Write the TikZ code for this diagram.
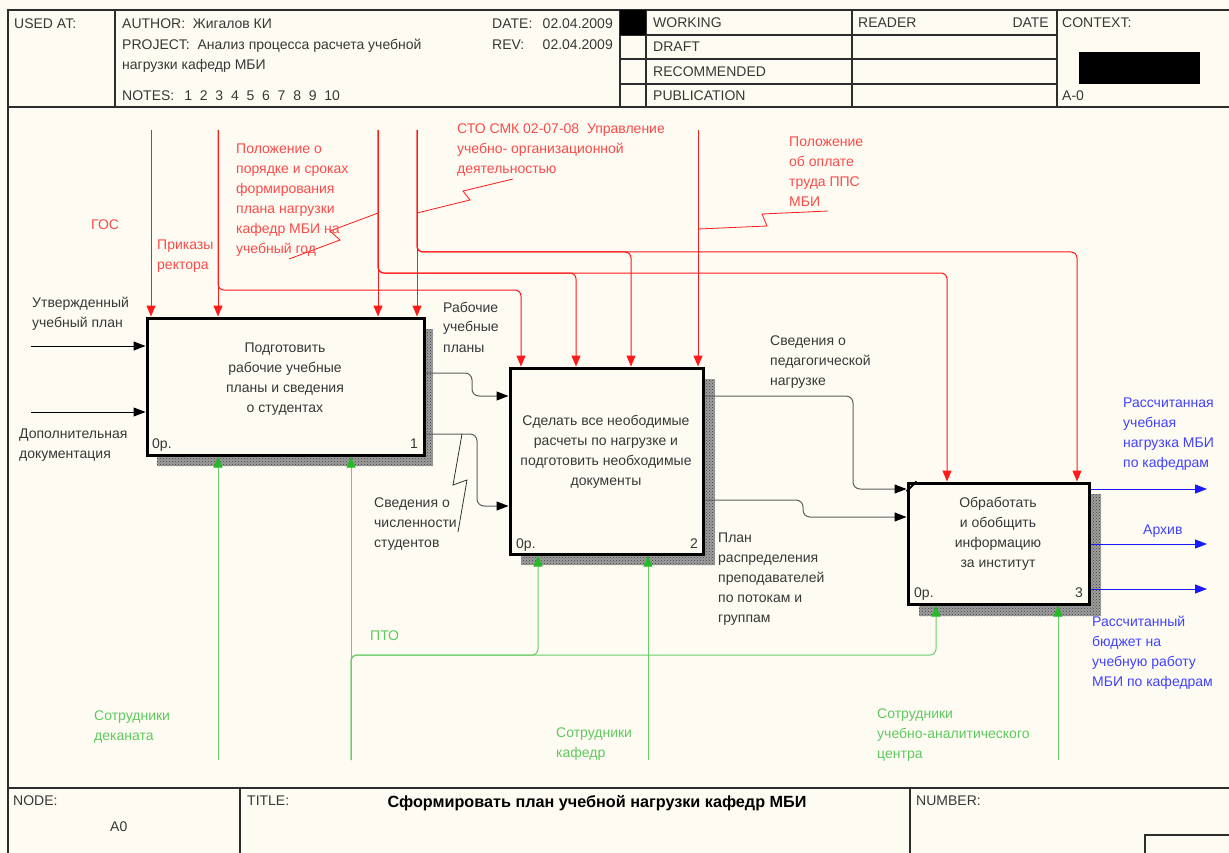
\documentclass[tikz,border=0pt]{standalone}
\usepackage{fontspec}
\setmainfont{Liberation Sans}
\usetikzlibrary{arrows.meta,patterns}

\definecolor{paper}{RGB}{254,252,242}
\definecolor{frame}{RGB}{45,45,45}
\definecolor{ink}{RGB}{55,55,55}
\definecolor{ctrlred}{RGB}{255,25,25}
\definecolor{ctrltext}{RGB}{250,75,75}
\definecolor{mechline}{RGB}{105,205,105}
\definecolor{mechtip}{RGB}{40,185,40}
\definecolor{mechtext}{RGB}{95,200,95}
\definecolor{outblue}{RGB}{25,25,255}
\definecolor{outtext}{RGB}{65,65,255}
\definecolor{flow}{RGB}{95,95,95}

\newcommand{\diafont}{\fontsize{14}{20}\selectfont}
\newcommand{\leftlines}[1]{\begin{tabular}[t]{@{}l@{}}#1\end{tabular}}
\newcommand{\midlines}[1]{\begin{tabular}[t]{@{}c@{}}#1\end{tabular}}

\tikzset{
  rule/.style={draw=frame, line width=1.1pt},
  txt/.style={font=\diafont, text=ink, inner sep=0pt, anchor=base west},
  txtr/.style={txt, anchor=base east},
  ctrltxt/.style={txt, text=ctrltext},
  mechtxt/.style={txt, text=mechtext},
  outtxt/.style={txt, text=outtext},
  boxtxt/.style={font=\diafont, text=ink, inner sep=0pt, anchor=base},
  fnbox/.style={draw=black, line width=3pt, fill=paper, inner sep=0pt},
  shadowfill/.style={fill=black!38},
  shadowdots/.style={pattern=crosshatch dots, pattern color=black!75},
  ctrl/.style={draw=ctrlred, line width=1pt, rounded corners=6pt,
    -{Triangle[length=11pt,width=9pt,color=ctrlred]}},
  mech/.style={draw=mechline, line width=1pt, rounded corners=6pt,
    -{Triangle[length=11pt,width=9pt,color=mechtip]}},
  flowline/.style={draw=flow, line width=1pt, rounded corners=7pt,
    -{Triangle[length=12pt,width=9pt,color=black]}},
  inline/.style={draw=black, line width=1pt,
    -{Triangle[length=12pt,width=9pt,color=black]}},
  outline/.style={draw=outblue, line width=1pt,
    -{Triangle[length=12pt,width=9pt,color=outblue]}},
  redtick/.style={draw=ctrlred, line width=0.8pt},
  blacktick/.style={draw=black!80, line width=0.8pt},
}

\begin{document}
\begin{tikzpicture}[x=1pt,y=-1pt]
\fill[paper] (0,0) rectangle (1229,853);
\useasboundingbox (0,0) rectangle (1229,853);

% ---------- form frame ----------
\draw[rule] (1229,10) -- (8,10) -- (8,853);
\draw[rule] (8,107) -- (1229,107);
\draw[rule] (8,788) -- (1229,788);
\draw[rule] (115,10) -- (115,107);
\draw[rule] (620,10) -- (620,107);
\draw[rule] (646,10) -- (646,107);
\draw[rule] (852,10) -- (852,107);
\draw[rule] (1057,10) -- (1057,107);
\foreach \yy in {35,59,84} \draw[rule] (620,\yy) -- (1057,\yy);
\fill[black] (620,10) rectangle (646,35);
\fill[black] (1079,52) rectangle (1200,84);
\draw[rule] (240,788) -- (240,853);
\draw[rule] (910,788) -- (910,853);
\draw[rule] (1145,853) -- (1145,835) -- (1229,835);

% ---------- header texts ----------
\node[txt] (usedat) at (14,29) {USED AT:};
\node[txt] (author) at (122,29) {AUTHOR:~~Жигалов КИ};
\node[txt] (project) at (122,50) {\leftlines{PROJECT:~~Анализ процесса расчета учебной\\нагрузки кафедр МБИ}};
\node[txt] (notes) at (122,101) {NOTES:\hspace{10pt}1~~2~~3~~4~~5~~6~~7~~8~~9~~10};
\node[txt] (datelbl) at (492,29) {DATE:};
\node[txtr] (dateval) at (613,29) {02.04.2009};
\node[txt] (revlbl) at (492,50) {REV:};
\node[txtr] (revval) at (613,50) {02.04.2009};
\node[txt] (working) at (653,28) {WORKING};
\node[txt] (draft) at (653,52) {DRAFT};
\node[txt] (recomm) at (653,77) {RECOMMENDED};
\node[txt] (public) at (653,101) {PUBLICATION};
\node[txt] (reader) at (858,28) {READER};
\node[txtr] (rdate) at (1049,28) {DATE};
\node[txt] (context) at (1062,28) {CONTEXT:};
\node[txt] (ctxnode) at (1062,101) {A-0};

% ---------- footer texts ----------
\node[txt] (nodelbl) at (13,805) {NODE:};
\node[txt] (nodeval) at (110,831) {A0};
\node[txt] (titlelbl) at (247,805) {TITLE:};
\node[font=\fontsize{16.2}{20}\selectfont\bfseries, text=black, inner sep=0pt, anchor=base] (title) at (597,807) {Сформировать план учебной нагрузки кафедр МБИ};
\node[txt] (numberlbl) at (916,805) {NUMBER:};

% ---------- activity boxes ----------
\foreach \sx/\sy/\ex/\ey in {157/329/433/466, 521/379/715/565, 919/494/1101/616} {
  \fill[shadowfill] (\sx,\sy) rectangle (\ex,\ey);
  \fill[shadowdots] (\sx,\sy) rectangle (\ex,\ey);
}

\node[fnbox, minimum width=277pt, minimum height=137pt] (b1) at (285.5,386.5) {};
\node[fnbox, minimum width=193pt, minimum height=186pt] (b2) at (606.5,461) {};
\node[fnbox, minimum width=181pt, minimum height=121pt] (b3) at (998.5,543.5) {};
\draw[black, line width=2pt] ([yshift=-10pt]b3.north west) -- ([xshift=10pt]b3.north west);

\node[boxtxt] (b1t) at (285,352) {\midlines{Подготовить\\рабочие учебные\\планы и сведения\\о студентах}};
\node[boxtxt] (b2t) at (606,425) {\midlines{Сделать все неободимые\\расчеты по нагрузке и\\подготовить необходимые\\документы}};
\node[boxtxt] (b3t) at (998,507) {\midlines{Обработать\\и обобщить\\информацию\\за институт}};
\node[txt] (b1c) at (152,448) {0р.};
\node[txtr] (b1n) at (418,448) {1};
\node[txt] (b2c) at (516,548) {0р.};
\node[txtr] (b2n) at (698,548) {2};
\node[txt] (b3c) at (914,597) {0р.};
\node[txtr] (b3n) at (1083,597) {3};

% ---------- controls ----------
\coordinate (c1) at (151,130);
\coordinate (c2) at (218,130);
\coordinate (c3) at (378,130);
\coordinate (c4) at (417,130);
\coordinate (c5) at (698,130);
\coordinate (k2) at (521,290);
\coordinate (k3a) at (576,273);
\coordinate (k3b) at (947,273);
\coordinate (k4a) at (631,252);
\coordinate (k4b) at (1077,252);

\draw[ctrl] (c3) |- (k3b) -- (k3b |- b3.north);
\draw[ctrl] (c3) |- (k3a) -- (k3a |- b2.north);
\draw[ctrl] (c4) |- (k4b) -- (k4b |- b3.north);
\draw[ctrl] (c4) |- (k4a) -- (k4a |- b2.north);
\draw[ctrl] (c2) |- (k2) -- (k2 |- b2.north);
\draw[ctrl] (c1) -- (c1 |- b1.north);
\draw[ctrl] (c2) -- (c2 |- b1.north);
\draw[ctrl] (c3) -- (c3 |- b1.north);
\draw[ctrl] (c4) -- (c4 |- b1.north);
\draw[ctrl] (c5) -- (c5 |- b2.north);

\draw[redtick] (378,213) -- (330,231) -- (340,240) -- (289,259);
\draw[redtick] (417,213) -- (470,200) -- (463,191) -- (513,179);
\draw[redtick] (698,229) -- (767,226) -- (762,214) -- (828,211);

\node[ctrltxt] (gos) at (91,230) {ГОС};
\node[ctrltxt] (prik) at (157,250) {\leftlines{Приказы\\ректора}};
\node[ctrltxt] (polozh) at (236,154) {\leftlines{Положение о\\порядке и сроках\\формирования\\плана нагрузки\\кафедр МБИ на\\учебный год}};
\node[ctrltxt] (sto) at (457,134) {\leftlines{СТО СМК 02-07-08~~Управление\\учебно- организационной\\деятельностью}};
\node[ctrltxt] (oplata) at (789,147) {\leftlines{Положение\\об оплате\\труда ППС\\МБИ}};

% ---------- inputs ----------
\coordinate (i1) at (31,346);
\coordinate (i2) at (31,412);
\draw[inline] (i1) -- (i1 -| b1.west);
\draw[inline] (i2) -- (i2 -| b1.west);
\node[txt] (inlbl1) at (32,307) {\leftlines{Утвержденный\\учебный план}};
\node[txt] (inlbl2) at (19,438) {\leftlines{Дополнительная\\документация}};

% ---------- flows between activities ----------
\coordinate (r1) at (472,373);
\coordinate (r2) at (472,396);
\draw[flowline] (b1.east |- r1) -- (r1) -- (r2) -- (b2.west |- r2);
\coordinate (s1) at (477,434);
\coordinate (s2) at (477,506);
\draw[flowline] (b1.east |- s1) -- (s1) -- (s2) -- (b2.west |- s2);
\coordinate (p1) at (853,396);
\coordinate (p2) at (853,489);
\draw[flowline] (b2.east |- p1) -- (p1) -- (p2) -- (b3.west |- p2);
\coordinate (q1) at (803,500);
\coordinate (q2) at (803,517);
\draw[flowline] (b2.east |- q1) -- (q1) -- (q2) -- (b3.west |- q2);
\draw[blacktick] (462,434) -- (453,485) -- (467,480) -- (458,532);

\node[txt] (rplbl) at (443,312) {\leftlines{Рабочие\\учебные\\планы}};
\node[txt] (svlbl) at (374,507) {\leftlines{Сведения о\\численности\\студентов}};
\node[txt] (pedlbl) at (770,345) {\leftlines{Сведения о\\педагогической\\нагрузке}};
\node[txt] (planlbl) at (718,542) {\leftlines{План\\распределения\\преподавателей\\по потокам и\\группам}};

% ---------- outputs ----------
\coordinate (o1) at (1207,489);
\coordinate (o2) at (1207,544);
\coordinate (o3) at (1207,589);
\draw[outline] (b3.east |- o1) -- (o1);
\draw[outline] (b3.east |- o2) -- (o2);
\draw[outline] (b3.east |- o3) -- (o3);
\node[outtxt] (out1) at (1123,407) {\leftlines{Рассчитанная\\учебная\\нагрузка МБИ\\по кафедрам}};
\node[outtxt] (out2) at (1143,534) {Архив};
\node[outtxt] (out3) at (1092,626) {\leftlines{Рассчитанный\\бюджет на\\учебную работу\\МБИ по кафедрам}};

% ---------- mechanisms ----------
\coordinate (m1) at (218,760);
\coordinate (m2) at (351,760);
\coordinate (m3) at (648,760);
\coordinate (m4) at (1058,760);
\coordinate (g1) at (538,655);
\coordinate (g2) at (936,655);
\draw[mech] (m2) |- (g2) -- (g2 |- b3.south);
\draw[mech] (m2) |- (g1) -- (g1 |- b2.south);
\draw[mech] (m1) -- (m1 |- b1.south);
\draw[mech] (m2) -- (m2 |- b1.south);
\draw[mech] (m3) -- (m3 |- b2.south);
\draw[mech] (m4) -- (m4 |- b3.south);

\node[mechtxt] (pto) at (370,640) {ПТО};
\node[mechtxt] (dekanat) at (94,720) {\leftlines{Сотрудники\\деканата}};
\node[mechtxt] (kafedr) at (556,737) {\leftlines{Сотрудники\\кафедр}};
\node[mechtxt] (centr) at (877,718) {\leftlines{Сотрудники\\учебно-аналитического\\центра}};
\end{tikzpicture}
\end{document}
